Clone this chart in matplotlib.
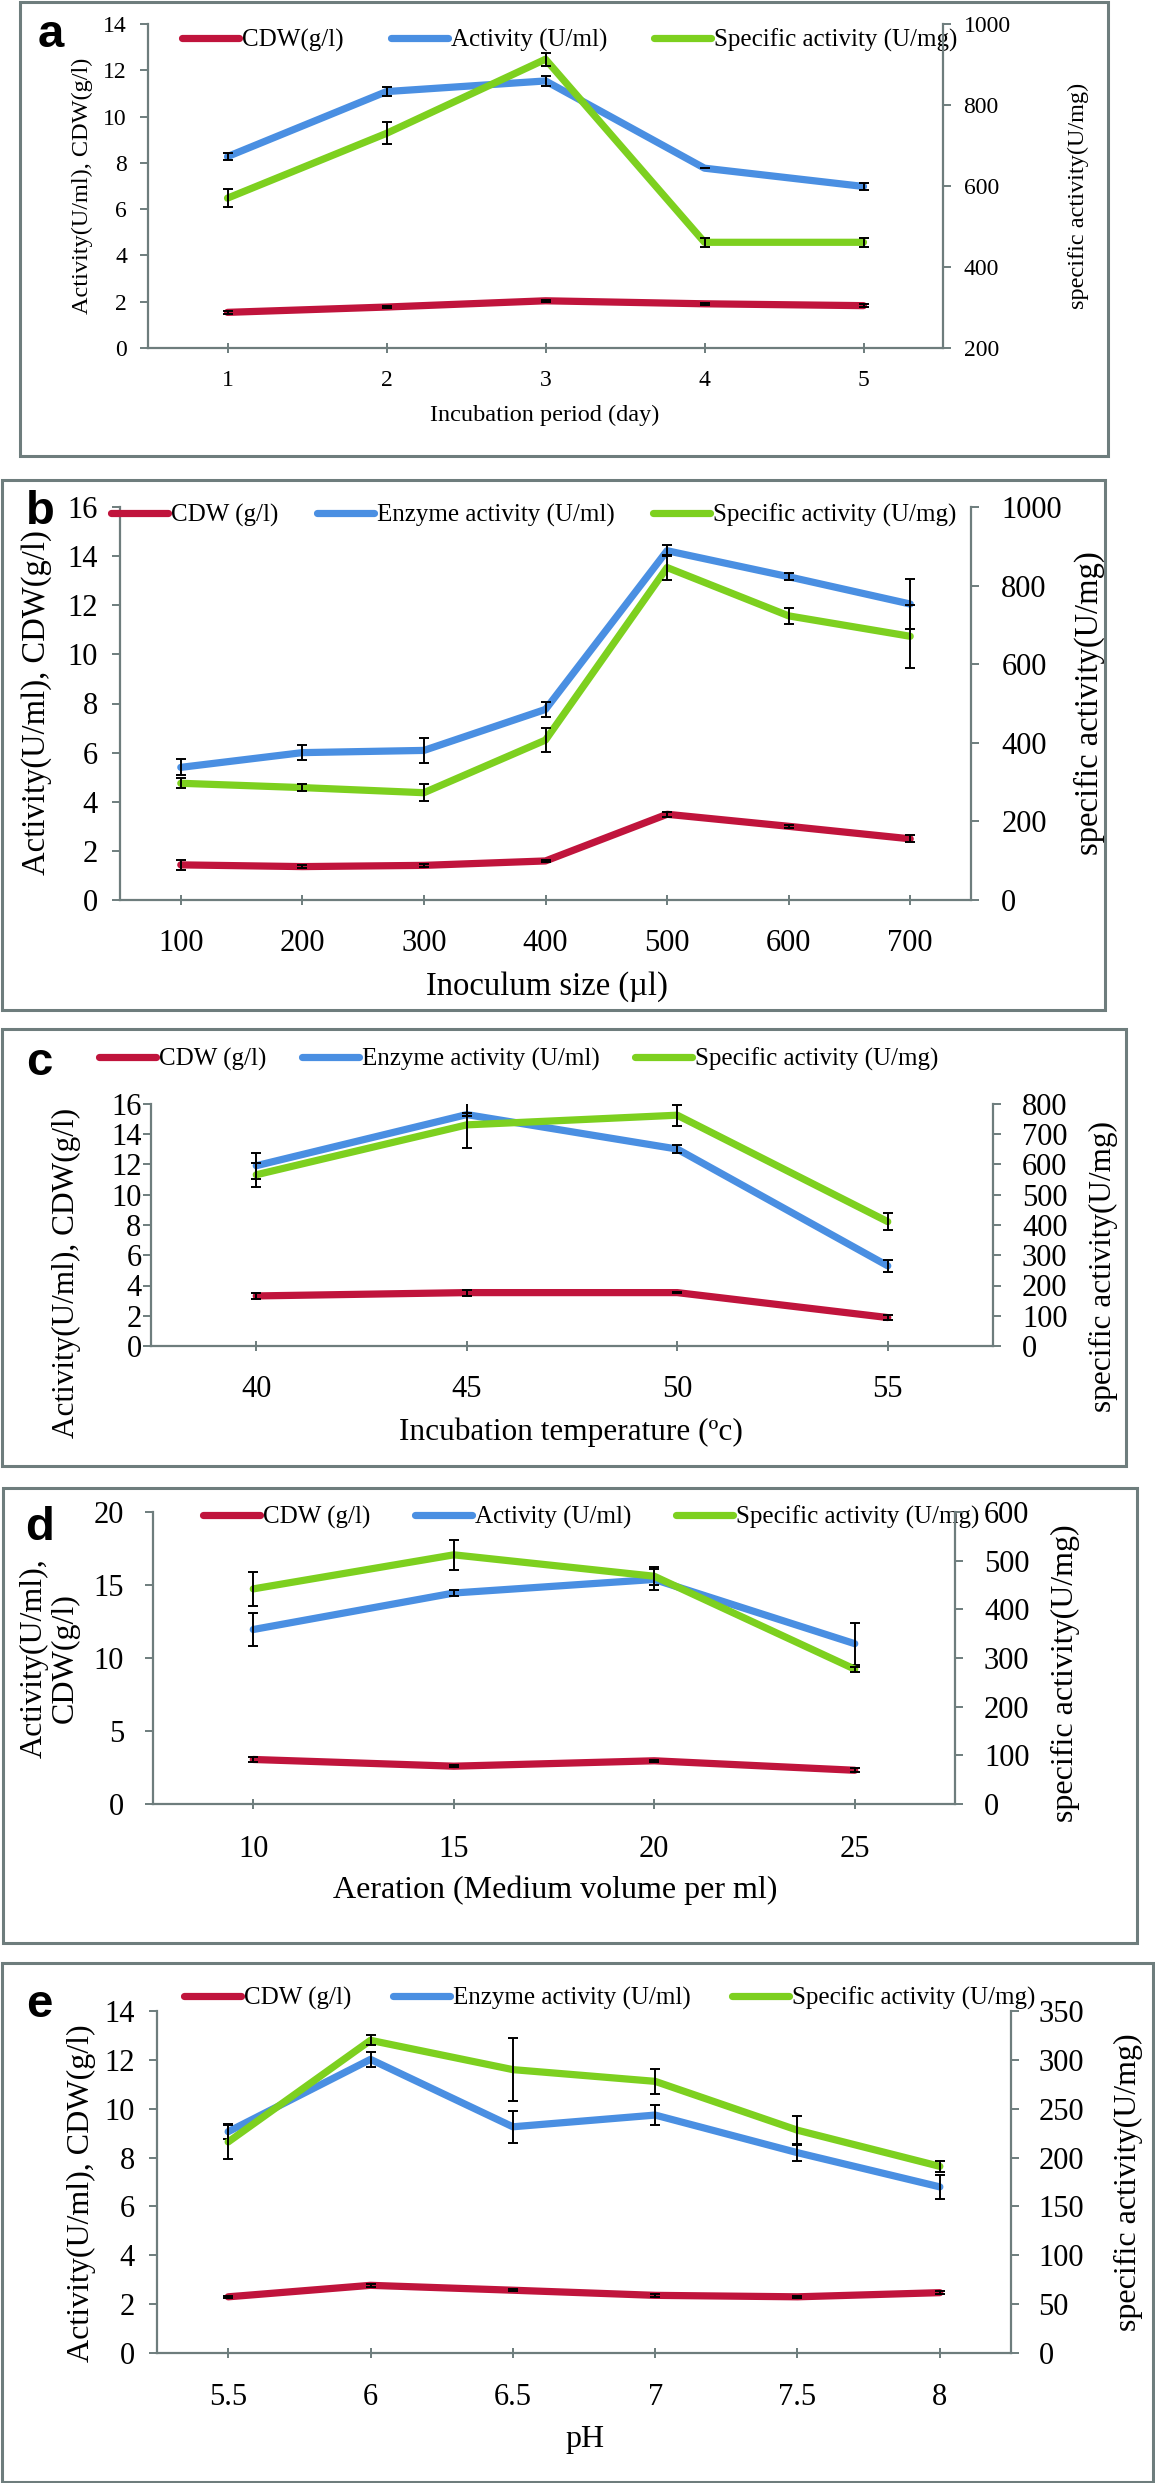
import numpy as np
import matplotlib.pyplot as plt
from matplotlib.patches import Rectangle

# ---- data ----
names_a = ['CDW(g/l)', 'Activity (U/ml)', 'Specific activity (U/mg)']
names_bce = ['CDW (g/l)', 'Enzyme activity (U/ml)', 'Specific activity (U/mg)']
names_d = ['CDW (g/l)', 'Activity (U/ml)', 'Specific activity (U/mg)']

a_x = ['1', '2', '3', '4', '5']
a_cdw = [1.54, 1.77, 2.04, 1.91, 1.83]
a_act = [8.27, 11.08, 11.54, 7.77, 6.98]
a_spec = [570, 730, 913, 461, 461]
a_cdw_err = [0.05, 0.05, 0.05, 0.05, 0.05]
a_act_err = [0.15, 0.2, 0.2, 0.0, 0.15]
a_spec_err = [22, 27, 16, 11, 11]

b_x = ['100', '200', '300', '400', '500', '600', '700']
b_cdw = [1.43, 1.36, 1.41, 1.59, 3.49, 3.0, 2.49]
b_act = [5.40, 6.0, 6.09, 7.76, 14.22, 13.16, 12.05]
b_spec = [297, 286, 273, 407, 846, 723, 671]
b_cdw_err = [0.2, 0.05, 0.05, 0.05, 0.1, 0.05, 0.14]
b_act_err = [0.33, 0.3, 0.5, 0.3, 0.23, 0.14, 1.0]
b_spec_err = [13, 8, 22, 30, 31, 20, 80]

c_x = ['40', '45', '50', '55']
c_cdw = [3.31, 3.53, 3.53, 1.88]
c_act = [11.92, 15.3, 13.02, 5.30]
c_spec = [566, 731, 763, 411]
c_cdw_err = [0.2, 0.2, 0.05, 0.15]
c_act_err = [0.85, 0.1, 0.27, 0.4]
c_spec_err = [40, 75, 35, 29]

d_x = ['10', '15', '20', '25']
d_cdw = [3.05, 2.59, 2.96, 2.31]
d_act = [11.95, 14.45, 15.38, 10.98]
d_spec = [442, 512, 468, 277]
d_cdw_err = [0.2, 0.05, 0.05, 0.15]
d_act_err = [1.1, 0.2, 0.7, 1.45]
d_spec_err = [35, 31, 19, 5]

e_x = ['5.5', '6', '6.5', '7', '7.5', '8']
e_cdw = [2.30, 2.77, 2.57, 2.36, 2.30, 2.47]
e_act = [9.06, 12.02, 9.26, 9.74, 8.2, 6.8]
e_spec = [216, 320, 290, 278, 228, 191]
e_cdw_err = [0.05, 0.05, 0.05, 0.05, 0.05, 0.05]
e_act_err = [0.3, 0.3, 0.65, 0.4, 0.35, 0.5]
e_spec_err = [17, 5, 32, 13, 15, 6]

# ---- style ----
W, H = 1155, 2483
RED, BLUE, GREEN = '#C0143C', '#4A8FE2', '#7DD01F'
GRAY = '#6E7D7D'
LW = 5.2
plt.rcParams['font.family'] = ['Liberation Serif', 'DejaVu Serif']

fig = plt.figure(figsize=(W / 100, H / 100), dpi=100)


def fx(x):
    return x / W


def fy(y):
    return 1 - y / H


def panel(letter, lay, xlabels, cdw, act, spec, cdw_err, act_err, spec_err,
          names, ylabel, y2label, xlabel):
    # frame around the panel
    l, t, r, b = lay['box']
    fig.add_artist(Rectangle((fx(l), fy(b)), (r - l) / W, (b - t) / H,
                             transform=fig.transFigure, fill=False,
                             edgecolor=GRAY, lw=2.2))

    al, ar, atop, abot = lay['axes']
    ax = fig.add_axes([fx(al), fy(abot), (ar - al) / W, (abot - atop) / H])
    ax2 = ax.twinx()
    ax.patch.set_alpha(0)

    x = np.arange(1, len(xlabels) + 1)
    l1, = ax.plot(x, cdw, color=RED, lw=LW, solid_capstyle='round',
                  solid_joinstyle='round', label=names[0], zorder=2)
    ax.errorbar(x, cdw, yerr=cdw_err, fmt='none', ecolor='black',
                elinewidth=1.4, capsize=3.8, capthick=1.4, zorder=3)
    l2, = ax.plot(x, act, color=BLUE, lw=LW, solid_capstyle='round',
                  solid_joinstyle='round', label=names[1], zorder=4)
    ax.errorbar(x, act, yerr=act_err, fmt='none', ecolor='black',
                elinewidth=1.4, capsize=3.8, capthick=1.4, zorder=5)
    l3, = ax2.plot(x, spec, color=GREEN, lw=LW, solid_capstyle='round',
                   solid_joinstyle='round', label=names[2], zorder=2)
    ax2.errorbar(x, spec, yerr=spec_err, fmt='none', ecolor='black',
                 elinewidth=1.4, capsize=3.8, capthick=1.4, zorder=3)

    ax.set_xlim(0.5, len(x) + 0.5)
    ax.set_xticks(x)
    ax.set_xticklabels(xlabels)
    y0, y1, ys = lay['left']
    ax.set_ylim(y0, y1)
    ax.set_yticks(np.arange(y0, y1 + ys / 2, ys))
    z0, z1, zs = lay['right']
    ax2.set_ylim(z0, z1)
    ax2.set_yticks(np.arange(z0, z1 + zs / 2, zs))

    for s in ['top', 'right']:
        ax.spines[s].set_visible(False)
    for s in ['top', 'left', 'bottom']:
        ax2.spines[s].set_visible(False)
    for s in [ax.spines['left'], ax.spines['bottom'], ax2.spines['right']]:
        s.set_color(GRAY)
        s.set_linewidth(1.6)

    ts = lay['ticksize']
    ax.tick_params(axis='x', direction='inout', length=7.2, width=1.4,
                   color=GRAY, labelsize=ts, pad=lay['xpad'])
    ax.tick_params(axis='y', direction='out', length=5.8, width=1.4,
                   color=GRAY, labelsize=ts, pad=lay['ypad'])
    ax2.tick_params(axis='y', direction='out', length=5.8, width=1.4,
                    color=GRAY, labelsize=ts, pad=lay['y2pad'])

    lx, ly, cs = lay['legend']
    ax.legend(handles=[l1, l2, l3], loc='center left',
              bbox_to_anchor=(fx(lx), fy(ly)), bbox_transform=fig.transFigure,
              ncol=3, frameon=False, fontsize=18, handlelength=2.28,
              handletextpad=0.12, columnspacing=cs, borderpad=0,
              borderaxespad=0)

    ls = lay['labelsize']
    px, py = lay['ylabel']
    fig.text(fx(px), fy(py), ylabel, rotation=90, ha='center', va='center',
             fontsize=ls, linespacing=1.1)
    px, py = lay['y2label']
    fig.text(fx(px), fy(py), y2label, rotation=90, ha='center', va='center',
             fontsize=ls)
    px, py = lay['xlabel']
    fig.text(fx(px), fy(py), xlabel, ha='center', va='center', fontsize=ls)

    px, py = lay['letter']
    fig.text(fx(px), fy(py), letter, ha='center', va='baseline', fontsize=34,
             fontweight='bold', family=['Liberation Sans', 'DejaVu Sans'])


Y_LABEL = 'Activity(U/ml), CDW(g/l)'
Y2_LABEL = 'specific activity(U/mg)'

lay_a = dict(box=(20, 2, 1108, 456), axes=(148, 943, 24, 348),
             left=(0, 14, 2), right=(200, 1000, 200), ticksize=17,
             xpad=12, ypad=9.4, y2pad=9, legend=(182, 40, 1.88),
             labelsize=17.5, ylabel=(82, 186), y2label=(1078, 196),
             xlabel=(545, 415), letter=(51, 47))
lay_b = dict(box=(2, 480, 1105, 1010), axes=(120, 971, 507, 900),
             left=(0, 16, 2), right=(0, 1000, 200), ticksize=22,
             xpad=17, ypad=10, y2pad=16, legend=(111, 515, 1.54),
             labelsize=23.5, ylabel=(37, 703), y2label=(1089, 703),
             xlabel=(547, 987), letter=(40, 524))
lay_c = dict(box=(2, 1029, 1126, 1466), axes=(151, 993, 1104, 1346),
             left=(0, 16, 2), right=(0, 800, 100), ticksize=22,
             xpad=17, ypad=1, y2pad=15, legend=(99, 1059, 1.42),
             labelsize=22.5, ylabel=(66, 1273), y2label=(1103, 1266),
             xlabel=(571, 1432), letter=(39, 1075))
lay_d = dict(box=(3, 1488, 1137, 1943), axes=(153, 955, 1512, 1804),
             left=(0, 20, 5), right=(0, 600, 100), ticksize=22,
             xpad=18.7, ypad=15, y2pad=15, legend=(203, 1517, 1.78),
             labelsize=23, ylabel=(50, 1658), y2label=(1065, 1673),
             xlabel=(555, 1890), letter=(40, 1540))
lay_e = dict(box=(2, 1963, 1153, 2482), axes=(157, 1011, 2011, 2353),
             left=(0, 14, 2), right=(0, 350, 50), ticksize=22,
             xpad=18, ypad=10, y2pad=14, legend=(184, 1998, 1.66),
             labelsize=23, ylabel=(81, 2193), y2label=(1128, 2182),
             xlabel=(585, 2440), letter=(39, 2017))

panel('a', lay_a, a_x, a_cdw, a_act, a_spec, a_cdw_err, a_act_err, a_spec_err,
      names_a, Y_LABEL, Y2_LABEL, 'Incubation period (day)')
panel('b', lay_b, b_x, b_cdw, b_act, b_spec, b_cdw_err, b_act_err, b_spec_err,
      names_bce, Y_LABEL, Y2_LABEL, 'Inoculum size (µl)')
panel('c', lay_c, c_x, c_cdw, c_act, c_spec, c_cdw_err, c_act_err, c_spec_err,
      names_bce, Y_LABEL, Y2_LABEL, 'Incubation temperature (ºc)')
panel('d', lay_d, d_x, d_cdw, d_act, d_spec, d_cdw_err, d_act_err, d_spec_err,
      names_d, 'Activity(U/ml),\nCDW(g/l)', Y2_LABEL,
      'Aeration (Medium volume per ml)')
panel('e', lay_e, e_x, e_cdw, e_act, e_spec, e_cdw_err, e_act_err, e_spec_err,
      names_bce, Y_LABEL, Y2_LABEL, 'pH')

fig.savefig('out.png', dpi=100, facecolor='white')
